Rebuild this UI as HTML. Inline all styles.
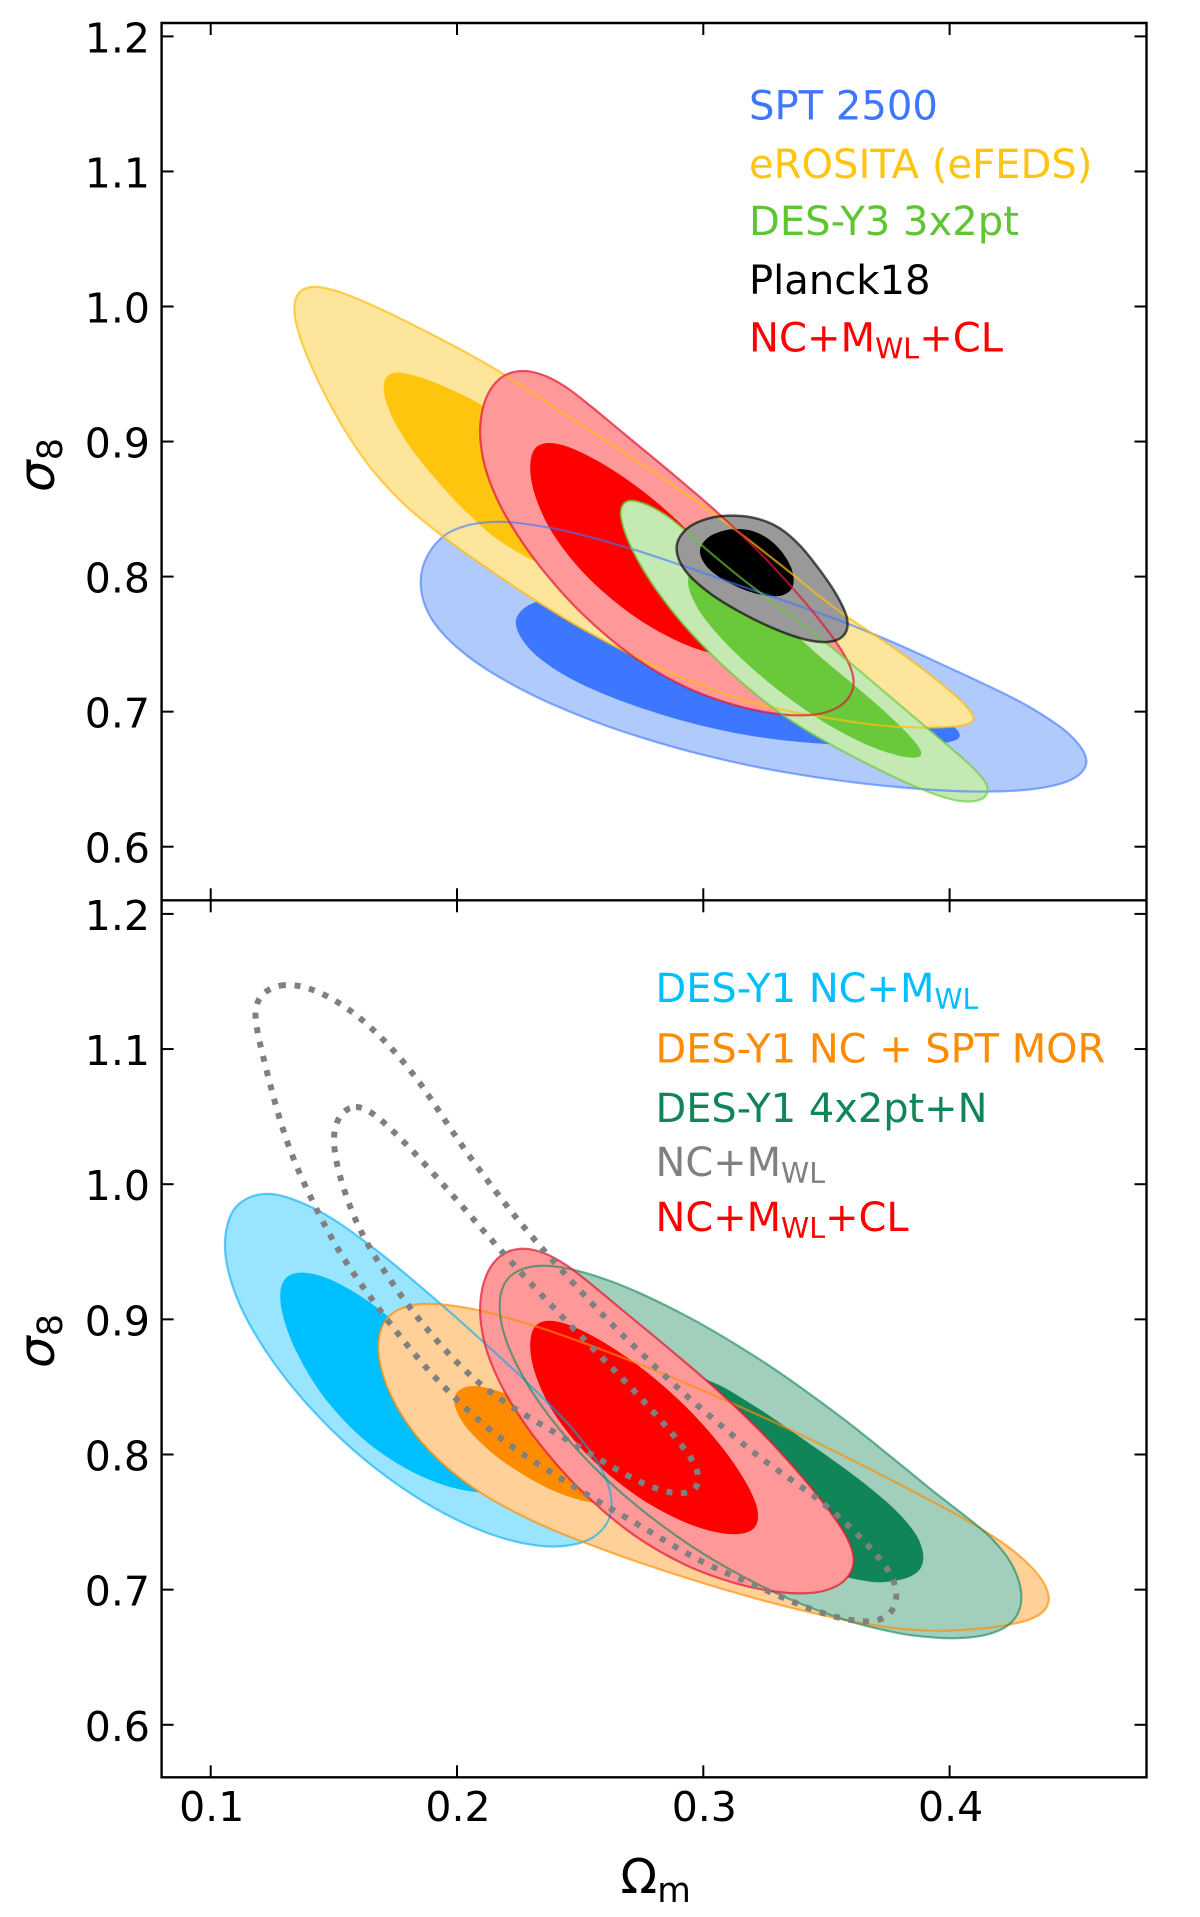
<!DOCTYPE html>
<html lang="en">
<head>
<meta charset="utf-8">
<title>Omega_m vs sigma_8 constraints</title>
<style>
html,body{margin:0;padding:0;background:#fff;}
svg{display:block;font-family:"DejaVu Sans","Liberation Sans",sans-serif;}
.tick-label{font-size:41px;fill:#000;}
.legend{font-size:40.1px;}
.legend-bottom{font-size:39.9px;}
</style>
</head>
<body>
<svg id="chart" xmlns="http://www.w3.org/2000/svg" width="1200" height="1917" viewBox="0 0 1200 1917">
  <rect x="0" y="0" width="1200" height="1917" fill="#fff"/>
  <g id="top-marks"></g>
  <g id="bottom-marks"></g>
  <g id="axes"></g>

  <g class="legend">
    <text x="749" y="119.5" fill="#3d77ff">SPT 2500</text>
    <text x="749" y="178" fill="#fec50f">eROSITA (eFEDS)</text>
    <text x="749" y="235" fill="#5fc534">DES-Y3 3x2pt</text>
    <text x="749" y="294" fill="#000">Planck18</text>
    <text x="749" y="351.5" fill="#ff0000">NC+M<tspan dy="7" font-size="28.5">WL</tspan><tspan dy="-7">+CL</tspan></text>
  </g>
  <g class="legend-bottom">
    <text x="655.5" y="1002" fill="#00bfff">DES-Y1 NC+M<tspan dy="7" font-size="28.5">WL</tspan></text>
    <text x="655.5" y="1062.5" fill="#ff8c00">DES-Y1 NC + SPT MOR</text>
    <text x="655.5" y="1122" fill="#0f8558">DES-Y1 4x2pt+N</text>
    <text x="655.5" y="1176" fill="#808080">NC+M<tspan dy="7" font-size="28.5">WL</tspan></text>
    <text x="655.5" y="1231" fill="#ff0000">NC+M<tspan dy="7" font-size="28.5">WL</tspan><tspan dy="-7">+CL</tspan></text>
  </g>

  <text transform="translate(54,465) rotate(-90)" text-anchor="middle" font-size="50"><tspan font-style="italic">σ</tspan><tspan dy="8" font-size="35">8</tspan></text>
  <text transform="translate(54,1341) rotate(-90)" text-anchor="middle" font-size="50"><tspan font-style="italic">σ</tspan><tspan dy="8" font-size="35">8</tspan></text>
  <text x="620.5" y="1893" font-size="48">Ω<tspan dy="9" font-size="34.5">m</tspan></text>
</svg>

<script>
/* Axis tick values and labels */
const xTicks = [0.1, 0.2, 0.3, 0.4];
const xTickLabels = ["0.1", "0.2", "0.3", "0.4"];
const yTicks = [0.6, 0.7, 0.8, 0.9, 1.0, 1.1, 1.2];
const yTickLabels = ["0.6", "0.7", "0.8", "0.9", "1.0", "1.1", "1.2"];

/* Contours: [Omega_m, sigma_8] points */
const sptOuter = [[.2162,.8409],[.1980,.8348],[.1888,.8150],[.1862,.7904],[.1912,.7657],[.2040,.7410],[.2311,.7114],[.2582,.6917],[.2852,.6757],[.3123,.6628],[.3311,.6565],[.3582,.6482],[.3853,.6432],[.4123,.6415],[.4339,.6425],[.4494,.6507],[.4559,.6641],[.4509,.6821],[.4286,.7074],[.4123,.7210],[.3988,.7321],[.3785,.7506],[.3582,.7666],[.3311,.7827],[.3123,.7941],[.2920,.8076],[.2717,.8200],[.2378,.8360]];
const sptInner = [[.2290,.7850],[.2260,.7682],[.2295,.7484],[.2405,.7312],[.2582,.7139],[.2852,.6967],[.3123,.6843],[.3311,.6803],[.3529,.6757],[.3840,.6740],[.3975,.6778],[.4005,.6827],[.4015,.6884],[.3873,.7067],[.3562,.7291],[.3252,.7516],[.2941,.7695],[.2630,.7830]];
const erositaOuter = [[.1444,1.0147],[.1383,1.0122],[.1349,1.0036],[.1342,.9925],[.1376,.9703],[.1444,.9431],[.1539,.9110],[.1647,.8814],[.1782,.8518],[.1958,.8296],[.2120,.8074],[.2311,.7830],[.2541,.7583],[.2783,.7363],[.3123,.7077],[.3311,.7037],[.3447,.6988],[.3582,.6926],[.3717,.6894],[.3853,.6889],[.3988,.6889],[.4076,.6909],[.4090,.6963],[.4056,.7062],[.3961,.7210],[.3826,.7407],[.3690,.7580],[.3582,.7703],[.3487,.7827],[.3314,.8076],[.3056,.8471],[.2786,.8794],[.2459,.9160],[.2323,.9332],[.2202,.9505],[.2053,.9629],[.1890,.9801],[.1714,.9962],[.1552,1.0085]];
const erositaInner = [[.1762,.9517],[.1714,.9468],[.1705,.9369],[.1742,.9160],[.1809,.8962],[.1917,.8715],[.2054,.8468],[.2188,.8271],[.2310,.8123],[.2599,.7964],[.2724,.8233],[.2506,.8682],[.2320,.8996],[.2094,.9283],[.1972,.9369],[.1850,.9468]];
const redOuter = [[.2256,.9523],[.2188,.9480],[.2120,.9332],[.2091,.9110],[.2107,.8863],[.2161,.8617],[.2215,.8419],[.2324,.8098],[.2514,.7706],[.2717,.7411],[.2920,.7189],[.3123,.7053],[.3326,.6986],[.3447,.6975],[.3542,.7037],[.3589,.7123],[.3609,.7234],[.3582,.7383],[.3514,.7580],[.3393,.7827],[.3231,.8200],[.3055,.8471],[.2852,.8792],[.2676,.9063],[.2527,.9273],[.2459,.9382],[.2364,.9480]];
const redInner = [[.2405,.9000],[.2337,.8962],[.2306,.8814],[.2324,.8592],[.2391,.8296],[.2537,.7990],[.2724,.7697],[.2941,.7477],[.3096,.7428],[.3205,.7477],[.3220,.7599],[.3127,.7941],[.2941,.8333],[.2786,.8577],[.2599,.8822]];
const desY3Outer = [[.2690,.8577],[.2659,.8496],[.2690,.8298],[.2744,.8101],[.2812,.7904],[.2920,.7632],[.3055,.7386],[.3191,.7164],[.3311,.6999],[.3393,.6889],[.3528,.6748],[.3717,.6568],[.3893,.6420],[.4015,.6346],[.4096,.6341],[.4144,.6390],[.4151,.6469],[.4096,.6580],[.3988,.6753],[.3853,.6963],[.3717,.7173],[.3582,.7383],[.3487,.7531],[.3393,.7654],[.3311,.7777],[.3123,.8027],[.2988,.8224],[.2933,.8348],[.2852,.8446],[.2771,.8520]];
const desY3Inner = [[.2947,.8027],[.2940,.7928],[.2988,.7731],[.3082,.7534],[.3191,.7337],[.3311,.7160],[.3487,.6914],[.3650,.6765],[.3785,.6679],[.3866,.6674],[.3877,.6716],[.3839,.6815],[.3717,.7037],[.3582,.7247],[.3447,.7444],[.3366,.7568],[.3123,.7978],[.3055,.8076]];
const planckOuter = [[.3123,.8440],[.3028,.8432],[.2933,.8360],[.2886,.8212],[.2920,.8052],[.3028,.7879],[.3163,.7731],[.3299,.7608],[.3434,.7526],[.3515,.7521],[.3576,.7583],[.3586,.7706],[.3542,.7854],[.3461,.8052],[.3393,.8237],[.3312,.8360],[.3218,.8425]];
const planckInner = [[.3109,.8343],[.3015,.8298],[.2981,.8187],[.3015,.8064],[.3109,.7953],[.3218,.7879],[.3312,.7850],[.3366,.7916],[.3360,.8052],[.3312,.8200],[.3245,.8298],[.3177,.8340]];
const cyanOuter = [[.1224,.9965],[.1109,.9840],[.1053,.9506],[.1109,.9164],[.1233,.8773],[.1388,.8381],[.1606,.7990],[.1854,.7672],[.2134,.7403],[.2351,.7330],[.2537,.7379],[.2630,.7550],[.2599,.7843],[.2475,.8186],[.2320,.8430],[.2071,.8919],[.1854,.9213],[.1668,.9506],[.1450,.9790]];
const cyanInner = [[.1373,.9340],[.1301,.9262],[.1286,.9115],[.1357,.8724],[.1481,.8381],[.1668,.8039],[.1885,.7819],[.2118,.7721],[.2258,.7843],[.2134,.8235],[.1885,.8724],[.1699,.9066],[.1512,.9262]];
const orangeOuter = [[.1839,.9115],[.1730,.9017],[.1683,.8773],[.1730,.8430],[.1885,.8039],[.2071,.7746],[.2320,.7501],[.2630,.7281],[.2941,.7086],[.3252,.6914],[.3562,.6777],[.3799,.6714],[.3934,.6702],[.4069,.6709],[.4231,.6739],[.4313,.6776],[.4381,.6850],[.4401,.6948],[.4367,.7096],[.4272,.7269],[.4137,.7441],[.3975,.7602],[.3799,.7774],[.3562,.7990],[.3252,.8284],[.2941,.8504],[.2630,.8748],[.2320,.8944],[.2071,.9066]];
const orangeInner = [[.2087,.8499],[.2020,.8455],[.2000,.8357],[.2040,.8186],[.2196,.7941],[.2382,.7746],[.2599,.7599],[.2724,.7746],[.2444,.8186],[.2258,.8406]];
const des4x2Outer = [[.2357,.9423],[.2227,.9311],[.2186,.9066],[.2227,.8724],[.2382,.8284],[.2630,.7746],[.2941,.7355],[.3252,.7012],[.3562,.6768],[.3799,.6697],[.3934,.6657],[.4042,.6645],[.4164,.6672],[.4232,.6739],[.4279,.6850],[.4293,.6998],[.4245,.7220],[.4164,.7392],[.4069,.7528],[.3934,.7725],[.3799,.7910],[.3562,.8284],[.3252,.8675],[.2941,.9017],[.2630,.9262]];
const des4x2Inner = [[.2900,.8640],[.3034,.8504],[.3200,.8340],[.3407,.8110],[.3600,.7860],[.3790,.7590],[.3845,.7429],[.3885,.7306],[.3885,.7183],[.3853,.7121],[.3799,.7091],[.3655,.7076],[.3500,.7134],[.3252,.7403],[.2941,.7843],[.2724,.8333]];
const dottedOuter = [[.1306,1.1467],[.1242,1.1440],[.1192,1.1368],[.1184,1.1252],[.1192,1.1143],[.1215,1.0928],[.1246,1.0713],[.1279,1.0499],[.1315,1.0287],[.1360,1.0079],[.1415,.9881],[.1469,.9683],[.1523,.9491],[.1596,.9302],[.1668,.9121],[.1741,.8939],[.1813,.8774],[.1895,.8609],[.1976,.8443],[.2067,.8295],[.2158,.8146],[.2257,.8014],[.2357,.7898],[.2466,.7782],[.2566,.7650],[.2674,.7551],[.2783,.7436],[.2883,.7320],[.2991,.7204],[.3100,.7122],[.3209,.7039],[.3327,.6940],[.3435,.6857],[.3562,.6791],[.3680,.6758],[.3738,.6801],[.3774,.6890],[.3780,.6989],[.3762,.7105],[.3725,.7204],[.3644,.7369],[.3562,.7518],[.3463,.7683],[.3363,.7799],[.3263,.7931],[.3173,.8063],[.3073,.8212],[.2982,.8361],[.2892,.8493],[.2801,.8658],[.2720,.8807],[.2629,.8956],[.2547,.9121],[.2466,.9286],[.2339,.9534],[.2257,.9716],[.2185,.9881],[.2112,1.0063],[.2040,1.0228],[.1967,1.0426],[.1904,1.0608],[.1831,1.0790],[.1759,1.0955],[.1668,1.1120],[.1578,1.1269],[.1478,1.1391],[.1369,1.1460]];
const dottedInner = [[.1569,1.0568],[.1523,1.0499],[.1505,1.0377],[.1505,1.0261],[.1523,1.0063],[.1565,.9838],[.1614,.9643],[.1645,.9544],[.1705,.9352],[.1777,.9170],[.1850,.8989],[.1931,.8823],[.2013,.8658],[.2103,.8509],[.2203,.8377],[.2303,.8262],[.2466,.8096],[.2566,.7981],[.2674,.7865],[.2783,.7766],[.2892,.7706],[.2964,.7733],[.2977,.7832],[.2955,.7948],[.2919,.8047],[.2846,.8212],[.2765,.8377],[.2683,.8543],[.2593,.8708],[.2511,.8857],[.2384,.9104],[.2257,.9352],[.2139,.9583],[.2018,.9848],[.1895,1.0096],[.1768,1.0343],[.1677,1.0492],[.1623,1.0548]];

const NS = 'http://www.w3.org/2000/svg';
const xScale = v => 210.7 + (v - 0.1) * 2463;
const yScaleTop = v => 36.4 + (1.2 - v) * 1350.5;
const yScaleBottom = v => 913.9 + (1.2 - v) * 1351.5;

/* Volume-preserving smoothing removes hand-reading jitter without shrinking the contour */
function relax(p, k) {
  const n = p.length;
  return p.map((b, i) => {
    const a = p[(i - 1 + n) % n], c = p[(i + 1) % n];
    return [b[0] + k * ((a[0] + c[0]) / 2 - b[0]), b[1] + k * ((a[1] + c[1]) / 2 - b[1])];
  });
}

function splinePath(points, yScale) {
  let p = points.map(d => [xScale(d[0]), yScale(d[1])]);
  for (let it = 0; it < 4; it++) p = relax(relax(p, 0.5), -0.53);
  const n = p.length;
  let d = 'M' + p[0][0].toFixed(2) + ' ' + p[0][1].toFixed(2);
  for (let i = 0; i < n; i++) {
    const a = p[(i - 1 + n) % n], b = p[i], c = p[(i + 1) % n], e = p[(i + 2) % n];
    d += 'C' + (b[0] + (c[0] - a[0]) / 6).toFixed(2) + ' ' + (b[1] + (c[1] - a[1]) / 6).toFixed(2) + ' ' +
         (c[0] - (e[0] - b[0]) / 6).toFixed(2) + ' ' + (c[1] - (e[1] - b[1]) / 6).toFixed(2) + ' ' +
         c[0].toFixed(2) + ' ' + c[1].toFixed(2);
  }
  return d + 'Z';
}

function fillContour(parent, points, yScale, color, name) {
  const el = document.createElementNS(NS, 'path');
  el.setAttribute('d', splinePath(points, yScale));
  el.setAttribute('fill', color);
  
  
  parent.appendChild(el);
}

function lineContour(parent, points, yScale, color, name, dash, width) {
  const el = document.createElementNS(NS, 'path');
  el.setAttribute('d', splinePath(points, yScale));
  el.setAttribute('fill', 'none');
  el.setAttribute('stroke', color);
  el.setAttribute('stroke-width', width);
  if (dash) el.setAttribute('stroke-dasharray', dash);
  
  
  parent.appendChild(el);
}

function axisLine(parent, x1, y1, x2, y2, width, name) {
  const el = document.createElementNS(NS, 'line');
  el.setAttribute('x1', x1);
  el.setAttribute('y1', y1);
  el.setAttribute('x2', x2);
  el.setAttribute('y2', y2);
  el.setAttribute('stroke', '#000');
  el.setAttribute('stroke-width', width);
  
  
  parent.appendChild(el);
}

function axisLabel(parent, x, y, anchor, label, name) {
  const el = document.createElementNS(NS, 'text');
  el.setAttribute('x', x);
  el.setAttribute('y', y);
  el.setAttribute('text-anchor', anchor);
  el.setAttribute('class', 'tick-label');
  el.textContent = label;
  
  
  parent.appendChild(el);
}

const topG = document.getElementById('top-marks');
fillContour(topG, sptOuter, yScaleTop, '#b1cafc', 'spt-2500-outer-fill');
fillContour(topG, sptInner, yScaleTop, '#3d77ff', 'spt-2500-inner-fill');
fillContour(topG, erositaOuter, yScaleTop, '#fee59c', 'erosita-outer-fill');
fillContour(topG, erositaInner, yScaleTop, '#fec50f', 'erosita-inner-fill');
fillContour(topG, redOuter, yScaleTop, '#ff9999', 'nc-mwl-cl-outer-fill');
fillContour(topG, redInner, yScaleTop, '#ff0000', 'nc-mwl-cl-inner-fill');
fillContour(topG, desY3Outer, yScaleTop, '#c5e9b3', 'des-y3-outer-fill');
fillContour(topG, desY3Inner, yScaleTop, '#6ac93a', 'des-y3-inner-fill');
fillContour(topG, planckOuter, yScaleTop, '#999999', 'planck18-outer-fill');
fillContour(topG, planckInner, yScaleTop, '#000000', 'planck18-inner-fill');
lineContour(topG, sptOuter, yScaleTop, 'rgba(61,119,255,.6)', 'spt-2500-outline', null, 2.2);
lineContour(topG, erositaOuter, yScaleTop, 'rgba(254,190,15,.7)', 'erosita-outline', null, 2.2);
lineContour(topG, redOuter, yScaleTop, 'rgba(225,20,50,.7)', 'nc-mwl-cl-outline', null, 2.2);
lineContour(topG, desY3Outer, yScaleTop, 'rgba(106,201,58,.65)', 'des-y3-outline', null, 2.2);
lineContour(topG, planckOuter, yScaleTop, 'rgba(0,0,0,.65)', 'planck18-outline', null, 2.5);

const botG = document.getElementById('bottom-marks');
fillContour(botG, cyanOuter, yScaleBottom, '#99e5ff', 'des-y1-nc-mwl-outer-fill');
fillContour(botG, cyanInner, yScaleBottom, '#00bfff', 'des-y1-nc-mwl-inner-fill');
fillContour(botG, orangeOuter, yScaleBottom, '#ffd199', 'des-y1-nc-spt-outer-fill');
fillContour(botG, orangeInner, yScaleBottom, '#ff8c00', 'des-y1-nc-spt-inner-fill');
fillContour(botG, des4x2Outer, yScaleBottom, '#a1cfbb', 'des-y1-4x2pt-outer-fill');
fillContour(botG, des4x2Inner, yScaleBottom, '#0f8558', 'des-y1-4x2pt-inner-fill');
fillContour(botG, redOuter, yScaleBottom, '#ff9999', 'nc-mwl-cl-bottom-outer-fill');
fillContour(botG, redInner, yScaleBottom, '#ff0000', 'nc-mwl-cl-bottom-inner-fill');
lineContour(botG, cyanOuter, yScaleBottom, 'rgba(0,170,240,.6)', 'des-y1-nc-mwl-outline', null, 2.2);
lineContour(botG, orangeOuter, yScaleBottom, 'rgba(255,140,0,.65)', 'des-y1-nc-spt-outline', null, 2.2);
lineContour(botG, des4x2Outer, yScaleBottom, 'rgba(15,133,88,.6)', 'des-y1-4x2pt-outline', null, 2.2);
lineContour(botG, redOuter, yScaleBottom, 'rgba(225,20,50,.7)', 'nc-mwl-cl-bottom-outline', null, 2.2);
lineContour(botG, dottedOuter, yScaleBottom, '#808080', 'nc-mwl-outer-dotted', '6 8.7', 6);
lineContour(botG, dottedInner, yScaleBottom, '#808080', 'nc-mwl-inner-dotted', '6 8.7', 6);

const axes = document.getElementById('axes');
const L = 161.6, R = 1146.5, T = 23, M = 900.3, B = 1777.3, TL = 12;
xTicks.forEach((v, i) => {
  const x = xScale(v);
  axisLine(axes, x, T, x, T + TL, 2, 'x-tick-top-' + xTickLabels[i]);
  axisLine(axes, x, M - TL, x, M + TL, 2, 'x-tick-middle-' + xTickLabels[i]);
  axisLine(axes, x, B - TL, x, B, 2, 'x-tick-bottom-' + xTickLabels[i]);
  axisLabel(axes, x + 1, 1821, 'middle', xTickLabels[i], 'x-tick-label-' + xTickLabels[i]);
});
yTicks.forEach((v, i) => {
  const y1 = yScaleTop(v), y2 = yScaleBottom(v);
  axisLine(axes, L, y1, L + TL, y1, 2, 'top-y-tick-left-' + yTickLabels[i]);
  axisLine(axes, R - TL, y1, R, y1, 2, 'top-y-tick-right-' + yTickLabels[i]);
  axisLine(axes, L, y2, L + TL, y2, 2, 'bottom-y-tick-left-' + yTickLabels[i]);
  axisLine(axes, R - TL, y2, R, y2, 2, 'bottom-y-tick-right-' + yTickLabels[i]);
  axisLabel(axes, 150, y1 + 16, 'end', yTickLabels[i], 'top-y-tick-label-' + yTickLabels[i]);
  axisLabel(axes, 150, y2 + 16, 'end', yTickLabels[i], 'bottom-y-tick-label-' + yTickLabels[i]);
});
axisLine(axes, L, T - 1.2, L, B + 1.2, 2.4, 'left-spine');
axisLine(axes, R, T - 1.2, R, B + 1.2, 2.4, 'right-spine');
axisLine(axes, L, T, R, T, 2.4, 'top-spine');
axisLine(axes, L, M, R, M, 2.4, 'middle-spine');
axisLine(axes, L, B, R, B, 2.4, 'bottom-spine');
</script>
</body>
</html>
